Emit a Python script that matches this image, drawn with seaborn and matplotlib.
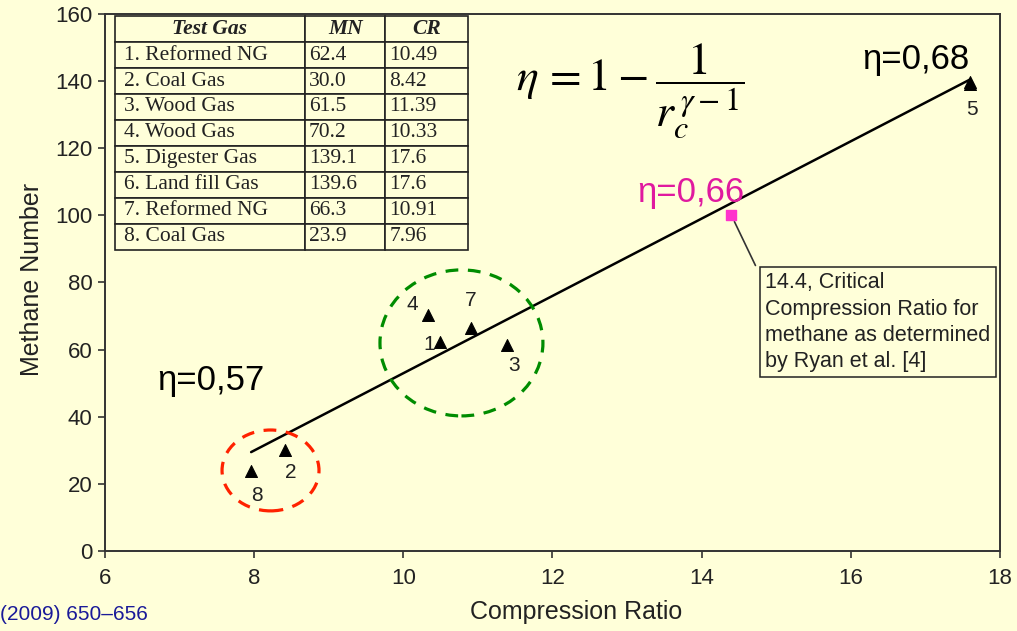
import matplotlib
matplotlib.use("Agg")
import matplotlib.pyplot as plt
from matplotlib.patches import Ellipse
import seaborn as sns
import pandas as pd

# Test gases: name, methane number (MN) and critical compression ratio (CR)
gas_names = ["1. Reformed NG", "2. Coal Gas", "3. Wood Gas", "4. Wood Gas",
             "5. Digester Gas", "6. Land fill Gas", "7. Reformed NG", "8. Coal Gas"]
mn_values = [62.4, 30.0, 61.5, 70.2, 139.1, 139.6, 66.3, 23.9]
cr_values = [10.49, 8.42, 11.39, 10.33, 17.6, 17.6, 10.91, 7.96]
mn_text = ["62.4", "30.0", "61.5", "70.2", "139.1", "139.6", "66.3", "23.9"]
cr_text = ["10.49", "8.42", "11.39", "10.33", "17.6", "17.6", "10.91", "7.96"]

# Point labels drawn next to the markers (gas 6 sits under gas 5)
point_ids = ["1", "2", "3", "4", "5", "", "7", "8"]
label_offsets = [(-8, -2), (4, -16), (5, -15), (-11, 8), (1, -18), (0, 0), (0, 20), (4, -18)]

# Methane reference point (Ryan et al.)
methane_cr = [14.4]
methane_mn = [100.0]

# Efficiency labels
eff_labels = ["η=0,68", "η=0,66", "η=0,57"]
eff_pos = [(16.15, 143.6), (13.14, 104.0), (6.70, 48.0)]

x_ticks = [6, 8, 10, 12, 14, 16, 18]
y_ticks = [0, 20, 40, 60, 80, 100, 120, 140, 160]

BG = "#FFFFD9"
MAGENTA = "#E0199F"

sns.set_style("ticks", {"axes.facecolor": BG, "figure.facecolor": BG,
                        "axes.edgecolor": "#333333"})
plt.rcParams["font.family"] = ["Liberation Sans", "DejaVu Sans"]

df = pd.DataFrame({"CR": cr_values, "MN": mn_values})

fig = plt.figure(figsize=(10.17, 6.31), dpi=100)
fig.patch.set_facecolor(BG)
ax = fig.add_axes([0.1032, 0.1268, 0.8800, 0.8510])
ax.set_facecolor(BG)

# Linear fit through the test gases
sns.regplot(data=df, x="CR", y="MN", scatter=False, ci=None, ax=ax,
            line_kws={"color": "black", "lw": 1.8})
sns.scatterplot(data=df, x="CR", y="MN", marker="^", color="black",
                edgecolor="black", s=75, ax=ax, zorder=4)

for pid, x, y, off in zip(point_ids, cr_values, mn_values, label_offsets):
    if pid:
        ax.annotate(pid, xy=(x, y), xytext=off, textcoords="offset points",
                    ha="center", va="center", fontsize=15, color="#222222")

# Methane reference point with call-out box
ax.scatter(methane_cr, methane_mn, marker="s", s=55, color="#FF33CC", zorder=5)
ax.annotate("14.4, Critical\nCompression Ratio for\nmethane as determined\nby Ryan et al. [4]",
            xy=(methane_cr[0], methane_mn[0]), xytext=(14.85, 83.0), textcoords="data",
            ha="left", va="top", fontsize=15.5, color="#222222", linespacing=1.32,
            bbox=dict(boxstyle="square,pad=0.25", fc=BG, ec="#222222", lw=1.1),
            arrowprops=dict(arrowstyle="-", color="#333333", lw=1.2,
                            relpos=(0, 0.87), shrinkA=6, shrinkB=5))

# Group highlights
ax.add_patch(Ellipse((8.22, 24.0), 1.30, 24.1, fill=False, ec="#FF2200",
                     lw=2.3, ls=(0, (4, 3)), zorder=3))
ax.add_patch(Ellipse((10.78, 62.0), 2.185, 43.5, fill=False, ec="#008C00",
                     lw=2.3, ls=(0, (4, 3)), zorder=3))

# Efficiency annotations
for txt, (x, y), col in zip(eff_labels, eff_pos, ["black", MAGENTA, "black"]):
    ax.text(x, y, txt, ha="left", va="baseline", fontsize=25, color=col)

ax.text(13.05, 137.0, r"$\eta\, =1-\dfrac{1}{r_c^{\,\gamma-1}}$", ha="center", va="center",
        fontsize=33, math_fontfamily="stix", color="black")

# Gas table in the upper-left corner
rows = [[n, m, c] for n, m, c in zip(gas_names, mn_text, cr_text)]
tbl = ax.table(cellText=rows, colLabels=["Test Gas", "MN", "CR"],
               colWidths=[190, 80, 83], cellLoc="left",
               bbox=[0.011, 0.561, 0.395, 0.435], zorder=6)
tbl.auto_set_font_size(False)
for (r, c), cell in tbl.get_celld().items():
    cell.set_facecolor(BG)
    cell.set_edgecolor("#222222")
    cell.set_linewidth(1.2)
    cell.PAD = 0.05
    txt = cell.get_text()
    txt.set_fontfamily(["Liberation Serif", "DejaVu Serif"])
    txt.set_fontsize(15.5)
    txt.set_color("#222222")
    if r == 0:
        txt.set_fontstyle("italic")
        txt.set_fontweight("bold")
        txt.set_horizontalalignment("center")
        cell._loc = "center"

ax.set_xlim(6, 18)
ax.set_ylim(0, 160)
ax.set_xticks(x_ticks)
ax.set_yticks(y_ticks)
ax.tick_params(direction="out", length=5, width=1.2, labelsize=16, pad=4,
               colors="#333333", labelcolor="#222222")
ax.tick_params(axis="x", pad=7)
for s in ax.spines.values():
    s.set_visible(True)
    s.set_linewidth(1.4)
    s.set_color("#333333")

ax.set_xlabel("Compression Ratio", fontsize=18, color="#222222")
ax.set_ylabel("Methane Number", fontsize=18, color="#222222")
ax.xaxis.set_label_coords(0.526, -0.092)
ax.yaxis.set_label_coords(-0.068, 0.505)

fig.text(0.0, 0.0174, "(2009) 650–656", ha="left", va="baseline",
         fontsize=15, color="#1A1A99")

fig.savefig("out.png", dpi=100, facecolor=BG)
